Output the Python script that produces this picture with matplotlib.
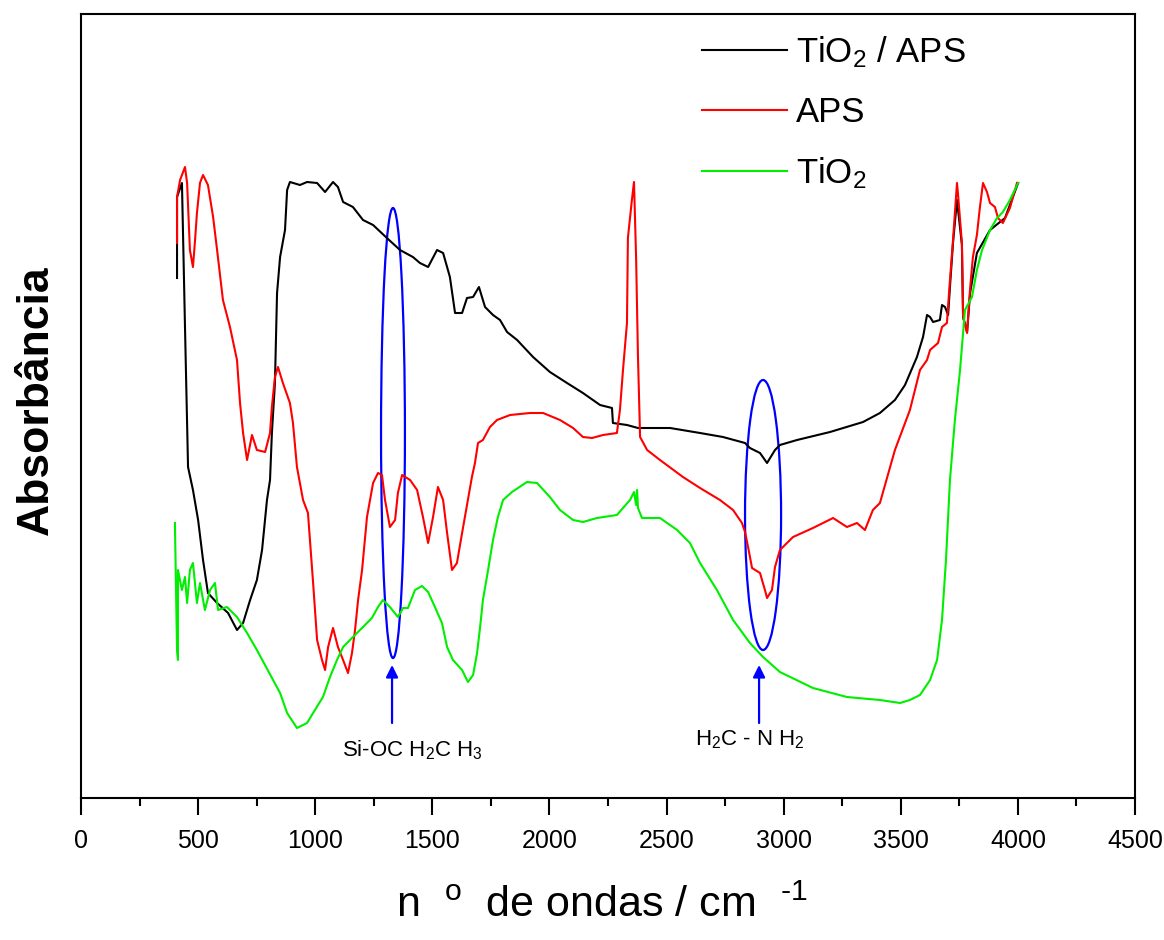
import matplotlib
matplotlib.use("Agg")
import matplotlib.pyplot as plt
from matplotlib.patches import Ellipse

plt.rcParams["font.family"] = ["Liberation Sans", "DejaVu Sans"]
plt.rcParams["mathtext.fontset"] = "custom"
plt.rcParams["mathtext.rm"] = "Liberation Sans"
plt.rcParams["mathtext.default"] = "regular"

# TiO2 / APS (black)
wn_tio2_aps = [410, 410, 431, 444, 457, 478, 500, 521, 542, 581, 628, 666, 692, 722, 751, 773, 794,
               807, 815, 828, 837, 850, 871, 880, 892, 935, 965, 1008, 1042, 1076, 1097, 1119, 1161,
               1204, 1247, 1306, 1362, 1417, 1447, 1482, 1520, 1546, 1575, 1597, 1627, 1648, 1674,
               1699, 1725, 1759, 1789, 1819, 1862, 1930, 2002, 2075, 2143, 2216, 2267, 2271, 2331,
               2378, 2515, 2643, 2741, 2835, 2856, 2899, 2929, 2963, 2984, 3057, 3198, 3339, 3411,
               3475, 3518, 3569, 3595, 3612, 3625, 3638, 3667, 3676, 3689, 3702, 3712, 3723, 3740,
               3761, 3766, 3783, 3796, 3825, 3881, 3945, 4001]
abs_tio2_aps = [0.520, 0.601, 0.615, 0.471, 0.331, 0.308, 0.278, 0.238, 0.205, 0.195, 0.185, 0.168,
                0.175, 0.198, 0.218, 0.248, 0.298, 0.318, 0.365, 0.415, 0.505, 0.541, 0.568, 0.608,
                0.616, 0.613, 0.616, 0.615, 0.606, 0.616, 0.611, 0.596, 0.591, 0.578, 0.573, 0.560,
                0.548, 0.541, 0.535, 0.531, 0.548, 0.545, 0.521, 0.485, 0.485, 0.500, 0.501, 0.511,
                0.491, 0.483, 0.478, 0.466, 0.458, 0.441, 0.426, 0.415, 0.405, 0.393, 0.390, 0.375,
                0.373, 0.370, 0.370, 0.365, 0.361, 0.355, 0.350, 0.345, 0.335, 0.348, 0.353, 0.358,
                0.366, 0.376, 0.385, 0.398, 0.413, 0.441, 0.461, 0.483, 0.481, 0.476, 0.478, 0.493,
                0.491, 0.483, 0.518, 0.555, 0.598, 0.553, 0.481, 0.466, 0.505, 0.545, 0.568, 0.580,
                0.615]

# APS (red)
wn_aps = [410, 410, 423, 444, 453, 465, 478, 487, 495, 508, 521, 542, 564, 581, 606, 636, 666, 679,
          692, 709, 730, 751, 786, 807, 815, 828, 841, 862, 892, 905, 922, 948, 969, 991, 1008, 1029,
          1042, 1055, 1076, 1097, 1119, 1140, 1157, 1170, 1183, 1200, 1221, 1247, 1268, 1285, 1298,
          1319, 1341, 1353, 1371, 1405, 1435, 1460, 1482, 1503, 1524, 1546, 1563, 1584, 1605, 1627,
          1652, 1669, 1682, 1695, 1716, 1746, 1776, 1832, 1917, 1973, 2045, 2101, 2143, 2182, 2229,
          2288, 2301, 2314, 2331, 2335, 2352, 2361, 2370, 2378, 2387, 2417, 2472, 2570, 2643, 2728,
          2784, 2822, 2835, 2848, 2865, 2899, 2920, 2929, 2950, 2963, 2984, 3040, 3125, 3211, 3270,
          3313, 3347, 3381, 3411, 3475, 3539, 3582, 3612, 3625, 3659, 3676, 3697, 3710, 3723, 3740,
          3744, 3761, 3766, 3783, 3796, 3808, 3825, 3838, 3851, 3868, 3881, 3902, 3915, 3936, 3966,
          3996]
abs_aps = [0.555, 0.601, 0.618, 0.631, 0.615, 0.548, 0.531, 0.558, 0.585, 0.615, 0.623, 0.613,
           0.581, 0.548, 0.498, 0.471, 0.438, 0.395, 0.365, 0.338, 0.363, 0.348, 0.346, 0.365,
           0.391, 0.421, 0.431, 0.415, 0.395, 0.375, 0.331, 0.298, 0.285, 0.215, 0.158, 0.138,
           0.128, 0.151, 0.170, 0.151, 0.138, 0.125, 0.145, 0.168, 0.198, 0.228, 0.281, 0.315,
           0.325, 0.323, 0.298, 0.271, 0.278, 0.305, 0.323, 0.318, 0.308, 0.281, 0.255, 0.281,
           0.311, 0.298, 0.265, 0.228, 0.235, 0.265, 0.298, 0.321, 0.335, 0.355, 0.358, 0.371,
           0.378, 0.383, 0.385, 0.385, 0.378, 0.370, 0.361, 0.360, 0.363, 0.365, 0.388, 0.428,
           0.475, 0.560, 0.598, 0.616, 0.540, 0.441, 0.361, 0.348, 0.338, 0.321, 0.310, 0.298,
           0.288, 0.275, 0.266, 0.251, 0.230, 0.225, 0.208, 0.200, 0.208, 0.231, 0.248, 0.261,
           0.270, 0.280, 0.271, 0.275, 0.268, 0.288, 0.295, 0.348, 0.388, 0.428, 0.438, 0.448,
           0.455, 0.471, 0.475, 0.518, 0.558, 0.615, 0.605, 0.555, 0.481, 0.465, 0.510, 0.541,
           0.563, 0.591, 0.615, 0.606, 0.595, 0.591, 0.580, 0.575, 0.590, 0.615]

# TiO2 (green)
wn_tio2 = [401, 410, 414, 414, 431, 444, 453, 465, 478, 495, 508, 529, 551, 572, 585, 623, 666, 709,
           751, 850, 880, 922, 965, 991, 1033, 1063, 1093, 1119, 1161, 1204, 1242, 1268, 1289, 1319,
           1353, 1375, 1396, 1426, 1456, 1482, 1511, 1541, 1563, 1588, 1627, 1652, 1674, 1691, 1704,
           1716, 1738, 1759, 1780, 1802, 1840, 1904, 1947, 2002, 2045, 2101, 2143, 2203, 2288, 2314,
           2344, 2361, 2370, 2374, 2378, 2395, 2472, 2545, 2600, 2643, 2715, 2784, 2856, 2912, 2984,
           3125, 3270, 3411, 3497, 3539, 3582, 3625, 3655, 3676, 3693, 3710, 3731, 3753, 3774, 3804,
           3825, 3847, 3881, 3911, 3936, 3966, 4001]
abs_tio2 = [0.275, 0.148, 0.138, 0.228, 0.208, 0.221, 0.195, 0.228, 0.235, 0.195, 0.215, 0.188,
            0.208, 0.215, 0.188, 0.191, 0.181, 0.165, 0.148, 0.105, 0.085, 0.070, 0.075, 0.085,
            0.101, 0.121, 0.138, 0.151, 0.161, 0.171, 0.180, 0.191, 0.198, 0.191, 0.181, 0.190,
            0.190, 0.208, 0.212, 0.206, 0.191, 0.175, 0.151, 0.138, 0.128, 0.116, 0.123, 0.145,
            0.171, 0.198, 0.228, 0.258, 0.281, 0.298, 0.306, 0.316, 0.315, 0.301, 0.288, 0.278,
            0.276, 0.280, 0.283, 0.290, 0.298, 0.306, 0.293, 0.308, 0.290, 0.280, 0.280, 0.268,
            0.255, 0.235, 0.208, 0.178, 0.155, 0.141, 0.126, 0.110, 0.101, 0.098, 0.095, 0.098,
            0.103, 0.118, 0.138, 0.178, 0.238, 0.318, 0.378, 0.428, 0.488, 0.501, 0.528, 0.548,
            0.568, 0.580, 0.586, 0.598, 0.615]

# marked bands: (centre wn, centre abs, width wn, height abs)
bands = [(1332, 0.365, 102, 0.450), (2912, 0.283, 154, 0.270)]
arrow_wn = [1328, 2895]
band_labels = ["Si-OC H$_2$C H$_3$", "H$_2$C - N H$_2$"]
label_wn = [1413, 2856]
label_abs = [0.048, 0.058]

fig = plt.figure(figsize=(11.64, 9.40), dpi=100)
ax = fig.add_axes([81 / 1164, 142 / 940, 1054 / 1164, 784 / 940])

ax.plot(wn_tio2_aps, abs_tio2_aps, color="black", lw=1.5, label="TiO$_2$ / APS")
ax.plot(wn_aps, abs_aps, color="#ff0000", lw=1.5, label="APS")
ax.plot(wn_tio2, abs_tio2, color="#00ee00", lw=1.5, label="TiO$_2$")

for (cx, cy, w, h) in bands:
    ax.add_patch(Ellipse((cx, cy), w, h, fill=False, edgecolor="#0000ff", lw=1.6))

for xw in arrow_wn:
    ax.annotate("", xy=(xw, 0.133), xytext=(xw, 0.075),
                arrowprops=dict(arrowstyle="-|>", color="#0000ff", lw=1.6,
                                mutation_scale=18, shrinkA=0, shrinkB=0))

for txt, xw, yv in zip(band_labels, label_wn, label_abs):
    ax.text(xw, yv, txt, ha="center", va="center", fontsize=16)

ax.set_xlim(0, 4500)
ax.set_ylim(0, 0.784)
ax.set_xticks(range(0, 4501, 500))
ax.set_xticks(range(250, 4500, 500), minor=True)
ax.set_yticks([])
ax.tick_params(axis="x", which="major", direction="out", length=12, width=1.5,
               labelsize=18, pad=10)
ax.tick_params(axis="x", which="minor", direction="out", length=6, width=1.5)
for sp in ax.spines.values():
    sp.set_linewidth(1.5)

ax.set_xlabel(r"n  $^{o}$  de ondas / cm  $^{\text{-1}}$", fontsize=31)
ax.xaxis.set_label_coords(0.494, -0.112)
ax.set_ylabel("Absorbância", fontsize=32, fontweight="bold")
ax.yaxis.set_label_coords(-0.023, 0.508)

ax.legend(loc="upper left", bbox_to_anchor=(0.589, 0.974), frameon=False, fontsize=25,
          handlelength=2.45, handletextpad=0.25, labelspacing=0.75, borderpad=0,
          borderaxespad=0)

fig.savefig("out.png", dpi=100)
